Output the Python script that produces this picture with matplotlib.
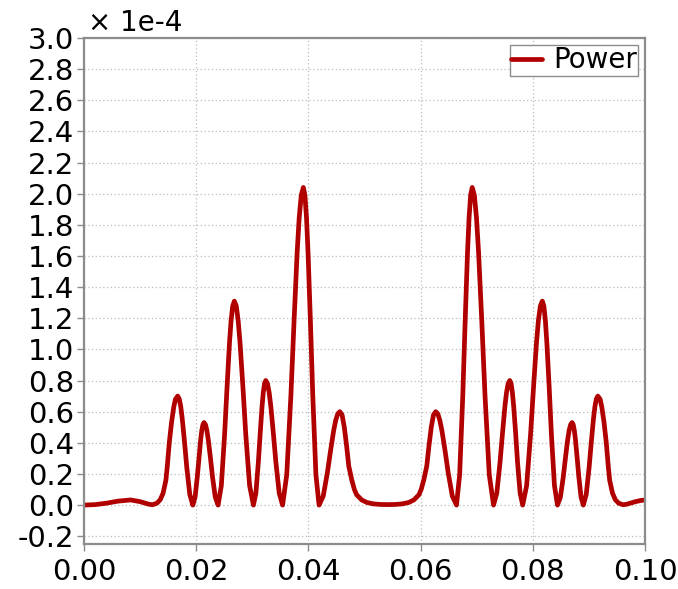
import numpy as np
import matplotlib
matplotlib.use('Agg')
import matplotlib.pyplot as plt

# power curve, values (in units of 1e-4)
freq = [0.0000, 0.0020, 0.0040, 0.0060, 0.0083, 0.0100, 0.0115, 0.0122, 0.0130, 0.0136,
        0.0141, 0.0146, 0.01485, 0.0152, 0.0156, 0.0160, 0.0163, 0.0167, 0.01697, 0.01724,
        0.01751, 0.01792, 0.01832, 0.01886, 0.0194, 0.0198, 0.0202, 0.0205, 0.0208, 0.0210,
        0.0212, 0.0214, 0.02165, 0.0219, 0.02215, 0.02253, 0.0229, 0.0234, 0.0239, 0.02448,
        0.02506, 0.02550, 0.02593, 0.02622, 0.02651, 0.0268, 0.02714, 0.02748, 0.02782, 0.02833,
        0.02884, 0.02952, 0.0302, 0.03064, 0.03108, 0.03141, 0.03174, 0.03196, 0.03218, 0.0324,
        0.0327, 0.0330, 0.0333, 0.03375, 0.0342, 0.0348, 0.0354, 0.03614, 0.03688, 0.03744,
        0.03799, 0.03836, 0.03873, 0.0391, 0.03938, 0.03966, 0.03994, 0.04036, 0.04078, 0.04134,
        0.0419, 0.04264, 0.04338, 0.04394, 0.04449, 0.04486, 0.04523, 0.0456, 0.0460, 0.0464,
        0.04682, 0.0472, 0.04772, 0.0482, 0.0486, 0.0495, 0.0504, 0.0515, 0.0528, 0.0542,
        0.0555, 0.0568, 0.0579, 0.0588, 0.0597, 0.0601, 0.06058, 0.0611, 0.06148, 0.0619,
        0.0623, 0.0627, 0.06307, 0.06344, 0.06381, 0.06437, 0.06492, 0.06566, 0.0664, 0.06696,
        0.06752, 0.06794, 0.06836, 0.06864, 0.06892, 0.0692, 0.06958, 0.06996, 0.07034, 0.07091,
        0.07148, 0.07224, 0.0730, 0.07358, 0.07416, 0.07460, 0.07503, 0.07532, 0.07561, 0.0759,
        0.07613, 0.07636, 0.07659, 0.07694, 0.07728, 0.07774, 0.0782, 0.0789, 0.0796, 0.08013,
        0.08065, 0.0810, 0.08135, 0.0817, 0.08197, 0.08224, 0.08251, 0.08292, 0.08332, 0.08386,
        0.0844, 0.08492, 0.08544, 0.08583, 0.08622, 0.08648, 0.08674, 0.0870, 0.0872, 0.0874,
        0.0876, 0.0879, 0.0882, 0.0886, 0.0890, 0.08952, 0.09004, 0.09043, 0.09082, 0.09108,
        0.09134, 0.0916, 0.0920, 0.0923, 0.0927, 0.0931, 0.09345, 0.0937, 0.0942, 0.0947,
        0.0953, 0.0961, 0.0968, 0.0983, 0.0993, 0.1000]

power = [0.000, 0.003, 0.012, 0.025, 0.033, 0.022, 0.006, 0.002, 0.012, 0.035,
         0.077, 0.160, 0.250, 0.400, 0.530, 0.630, 0.680, 0.700, 0.683, 0.634,
         0.556, 0.405, 0.242, 0.067, 0.000, 0.051, 0.183, 0.306, 0.421, 0.480,
         0.517, 0.530, 0.517, 0.480, 0.421, 0.306, 0.183, 0.051, 0.000, 0.125,
         0.452, 0.757, 1.040, 1.186, 1.279, 1.310, 1.279, 1.186, 1.040, 0.757,
         0.452, 0.125, 0.000, 0.076, 0.276, 0.462, 0.635, 0.724, 0.781, 0.800,
         0.781, 0.724, 0.635, 0.462, 0.276, 0.076, 0.000, 0.195, 0.704, 1.179,
         1.620, 1.846, 1.991, 2.040, 1.991, 1.846, 1.620, 1.179, 0.704, 0.195,
         0.000, 0.057, 0.207, 0.347, 0.476, 0.543, 0.586, 0.600, 0.580, 0.500,
         0.377, 0.250, 0.163, 0.100, 0.066, 0.033, 0.017, 0.008, 0.004, 0.003,
         0.004, 0.008, 0.017, 0.033, 0.066, 0.100, 0.163, 0.250, 0.377, 0.500,
         0.580, 0.600, 0.586, 0.543, 0.476, 0.347, 0.207, 0.057, 0.000, 0.195,
         0.704, 1.179, 1.620, 1.846, 1.991, 2.040, 1.991, 1.846, 1.620, 1.179,
         0.704, 0.195, 0.000, 0.076, 0.276, 0.462, 0.635, 0.724, 0.781, 0.800,
         0.781, 0.724, 0.635, 0.462, 0.276, 0.076, 0.000, 0.125, 0.452, 0.757,
         1.040, 1.186, 1.279, 1.310, 1.279, 1.186, 1.040, 0.757, 0.452, 0.125,
         0.000, 0.051, 0.183, 0.306, 0.421, 0.480, 0.517, 0.530, 0.517, 0.480,
         0.421, 0.306, 0.183, 0.051, 0.000, 0.067, 0.242, 0.405, 0.556, 0.634,
         0.683, 0.700, 0.680, 0.630, 0.530, 0.400, 0.250, 0.160, 0.077, 0.035,
         0.012, 0.002, 0.006, 0.022, 0.030, 0.032]

xticks = [0.00, 0.02, 0.04, 0.06, 0.08, 0.10]
yticks = [-0.2, 0.0, 0.2, 0.4, 0.6, 0.8, 1.0, 1.2, 1.4, 1.6, 1.8, 2.0,
          2.2, 2.4, 2.6, 2.8, 3.0]

frame = '#8c8c8c'

fig = plt.figure(figsize=(6.78, 5.89), dpi=100)
ax = fig.add_axes([84 / 678, 1 - 544 / 589, (645 - 84) / 678, (544 - 38) / 589])

ax.plot(freq, power, color='#b00000', lw=3.4, label='Power',
        solid_joinstyle='round', solid_capstyle='round')

ax.set_xlim(0, 0.1)
ax.set_ylim(-0.25, 3.0)
ax.set_xticks(xticks)
ax.set_xticklabels(['%.2f' % t for t in xticks])
ax.set_yticks(yticks)
ax.set_yticklabels(['%.1f' % t for t in yticks])

ax.grid(True, linestyle=(0, (1, 2)), color='#bdbdbd', lw=0.9)
for s in ax.spines.values():
    s.set_color(frame)
    s.set_linewidth(1.6)
ax.tick_params(length=5, width=1, color=frame, labelsize=21, pad=2)
ax.tick_params(axis='x', pad=5)

leg = ax.legend(loc='upper right', fontsize=20, fancybox=False, edgecolor=frame,
                handlelength=1.1, handletextpad=0.4, borderpad=0.05,
                borderaxespad=0.25, framealpha=1)
leg.get_frame().set_linewidth(1.0)

fig.text(88 / 678, 1 - 31 / 589, '\u00d7 1e-4', fontsize=20, va='baseline')

fig.savefig('out.png', dpi=100)
